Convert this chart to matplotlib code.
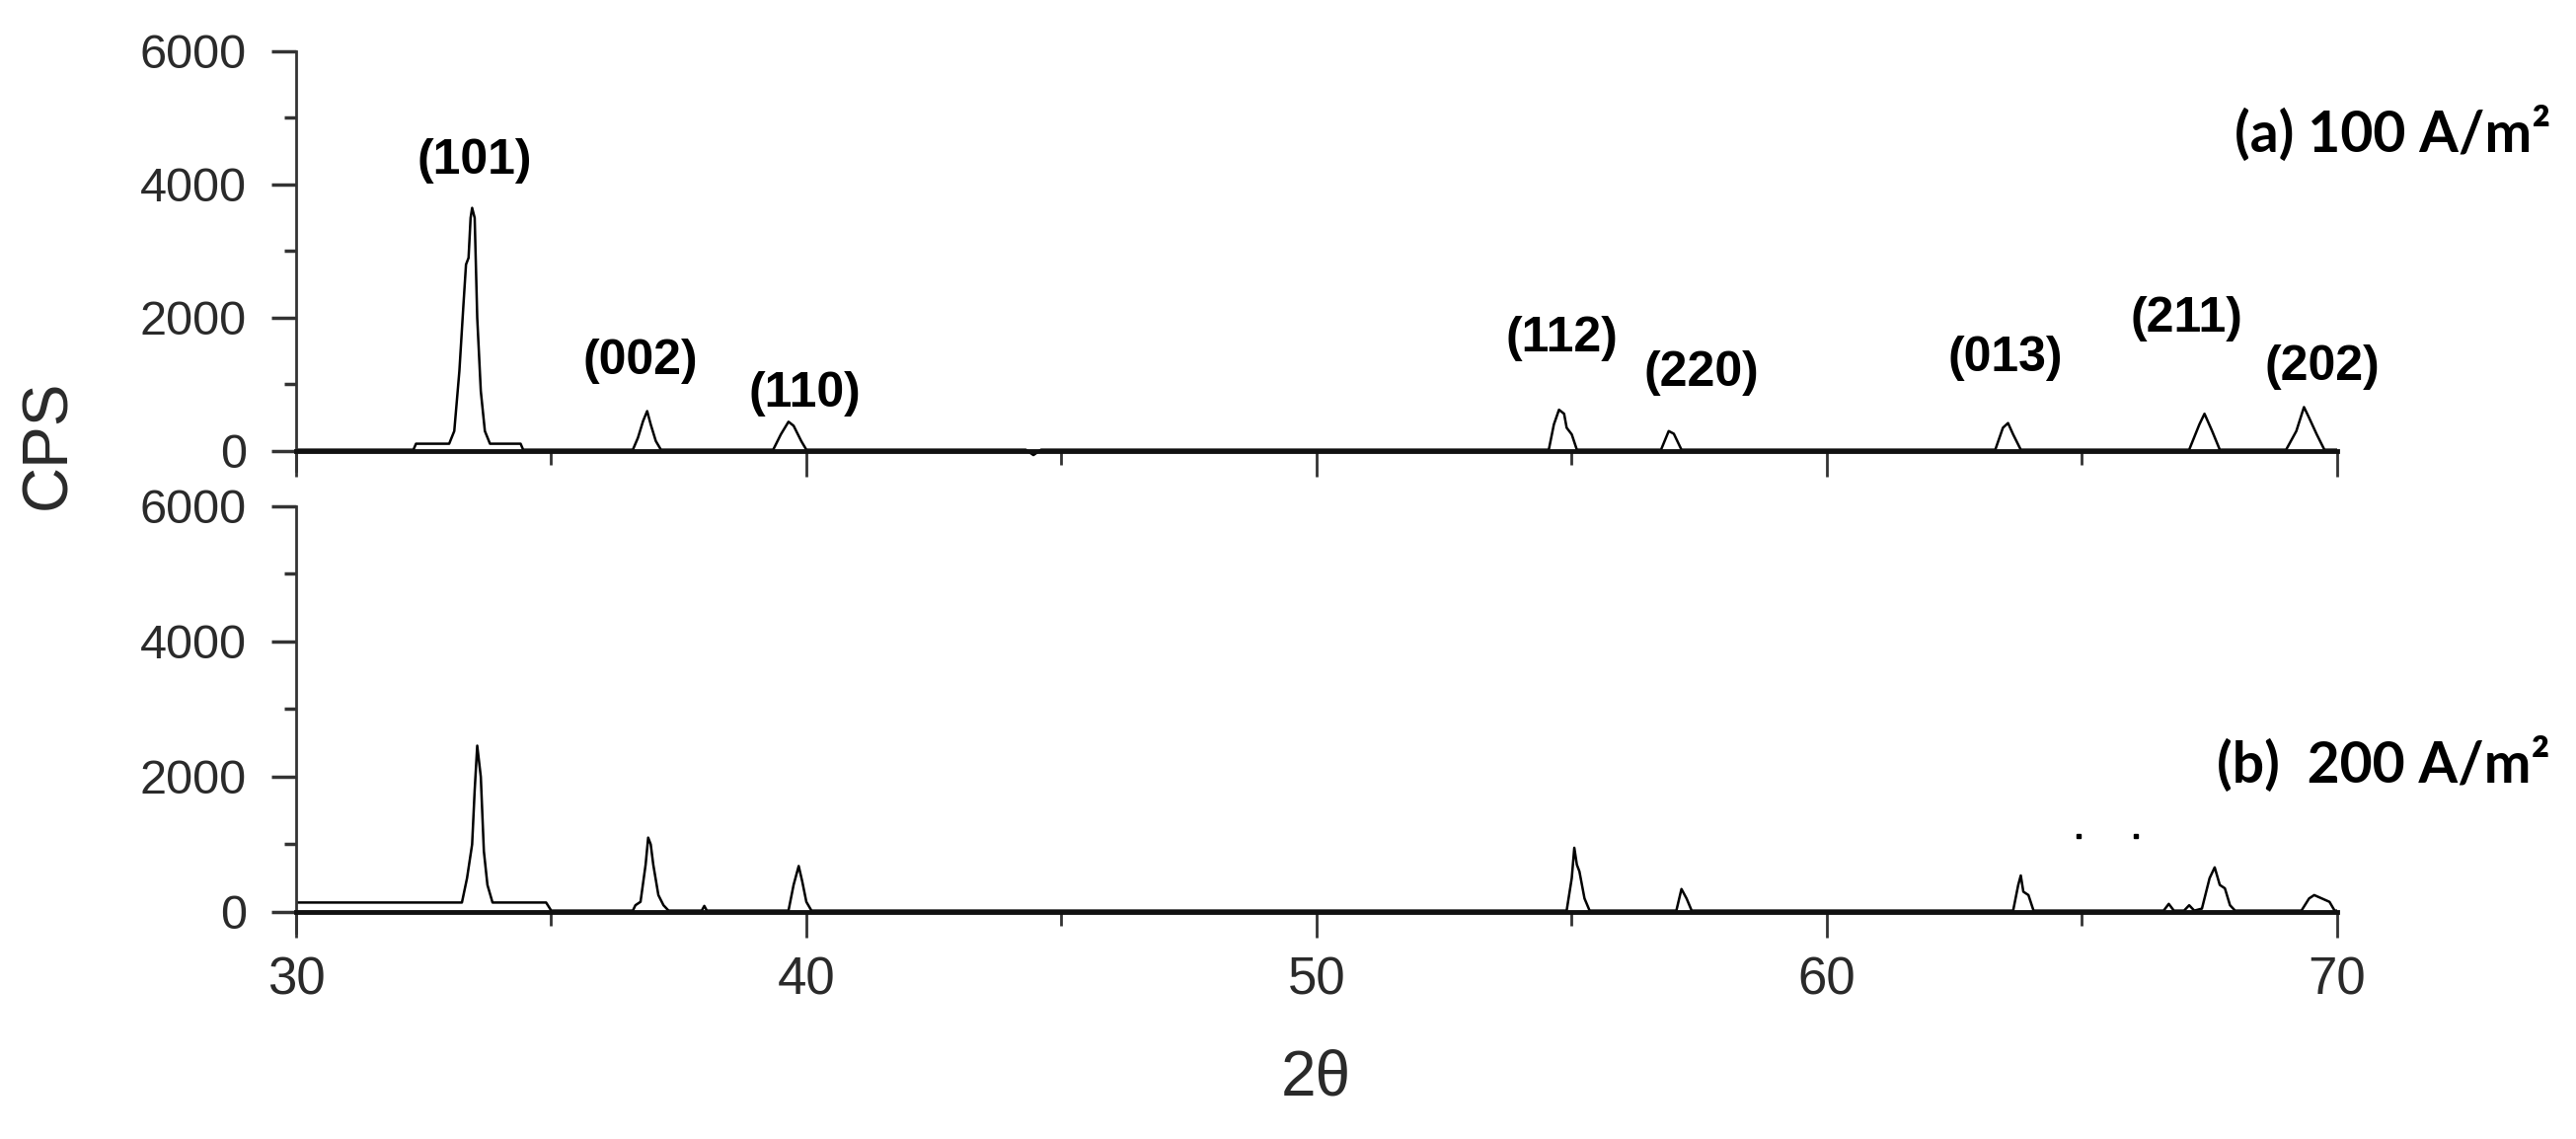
import matplotlib
matplotlib.use("Agg")
import matplotlib.pyplot as plt
from matplotlib.ticker import MultipleLocator

# 2-theta (deg) and counts per second
tth_a = [30.0, 32.3, 32.35, 33.0, 33.1, 33.2, 33.28, 33.33, 33.38, 33.42, 33.45, 33.5, 33.55, 33.62, 33.7, 33.8,
         34.4, 34.45, 36.6, 36.7, 36.8, 36.88, 36.95, 37.05, 37.15, 39.35, 39.5, 39.65, 39.75, 39.9, 40.0,
         44.3, 44.45, 44.6, 54.55, 54.65, 54.75, 54.85, 54.9, 55.0, 55.1, 56.75, 56.9, 57.0, 57.15,
         63.3, 63.45, 63.55, 63.65, 63.8, 67.1, 67.3, 67.4, 67.55, 67.7, 69.0, 69.2, 69.35, 69.45, 69.6, 69.75, 70.0]
cps_a = [20, 20, 110, 110, 300, 1200, 2200, 2800, 2900, 3500, 3650, 3500, 2000, 900, 300, 110,
         110, 20, 20, 200, 450, 600, 400, 150, 20, 20, 250, 440, 380, 150, 20,
         20, -60, 20, 20, 400, 620, 560, 350, 250, 20, 20, 300, 260, 20,
         20, 350, 420, 250, 20, 20, 400, 560, 300, 20, 20, 300, 660, 500, 250, 20, 20]

tth_b = [30.0, 33.25, 33.35, 33.45, 33.5, 33.55, 33.62, 33.68, 33.75, 33.85, 34.9, 35.0,
         36.6, 36.65, 36.75, 36.85, 36.9, 36.95, 37.0, 37.1, 37.2, 37.3, 37.95, 38.0, 38.05,
         39.65, 39.75, 39.85, 39.92, 40.0, 40.1, 54.9, 55.0, 55.05, 55.1, 55.15, 55.25, 55.35,
         57.05, 57.15, 57.25, 57.35, 63.65, 63.75, 63.8, 63.85, 63.95, 64.05,
         66.6, 66.7, 66.8, 67.0, 67.1, 67.2, 67.35, 67.5, 67.6, 67.7, 67.8, 67.9, 68.0,
         69.3, 69.45, 69.55, 69.7, 69.85, 69.95, 70.0]
cps_b = [140, 140, 500, 1000, 1800, 2460, 2000, 900, 400, 140, 140, 20,
         20, 100, 150, 700, 1100, 1000, 700, 250, 100, 20, 20, 90, 20,
         20, 400, 680, 450, 150, 20, 20, 500, 950, 700, 600, 200, 20,
         20, 340, 200, 20, 20, 400, 540, 300, 250, 20,
         20, 120, 20, 20, 100, 20, 50, 500, 660, 400, 350, 100, 20,
         20, 200, 250, 200, 150, 20, 20]

stray_x = [64.93, 66.05]
stray_y = [1120, 1120]

hkl = ["(101)", "(002)", "(110)", "(112)", "(220)", "(013)", "(211)", "(202)"]
hkl_x = [33.5, 36.75, 39.96, 54.8, 57.55, 63.5, 67.05, 69.7]
hkl_y = [4350, 1350, 860, 1690, 1170, 1390, 1980, 1260]

sans = ["Liberation Sans", "DejaVu Sans"]
tick_col = "#2a2a2a"

fig = plt.figure(figsize=(26.1, 11.54), dpi=100)
ax_a = fig.add_axes([0.11494, 0.58644, 0.79234, 0.3685])
ax_b = fig.add_axes([0.11494, 0.18150, 0.79234, 0.37396])

for ax in (ax_a, ax_b):
    ax.set_xlim(30, 70)
    ax.set_ylim(-300, 6000)
    ax.spines["top"].set_visible(False)
    ax.spines["right"].set_visible(False)
    ax.spines["bottom"].set_position(("data", 0))
    ax.spines["bottom"].set_linewidth(3.5)
    ax.spines["bottom"].set_color("#111111")
    ax.spines["left"].set_linewidth(2.0)
    ax.spines["left"].set_color("#333333")
    ax.xaxis.set_major_locator(MultipleLocator(10))
    ax.xaxis.set_minor_locator(MultipleLocator(5))
    ax.set_yticks([0, 2000, 4000, 6000])
    ax.yaxis.set_minor_locator(MultipleLocator(1000))
    ax.tick_params(axis="x", which="major", direction="out", length=19, width=2, color="#333333", pad=13)
    ax.tick_params(axis="x", which="minor", direction="out", length=10, width=2, color="#333333")
    ax.tick_params(axis="y", which="major", direction="out", length=18, width=2.5, color="#333333", pad=18)
    ax.tick_params(axis="y", which="minor", direction="out", length=9, width=2.5, color="#333333")
    for lab in ax.get_yticklabels():
        lab.set_family(sans)
        lab.set_fontsize(35)
        lab.set_color(tick_col)
    for lab in ax.get_xticklabels():
        lab.set_family(sans)
        lab.set_fontsize(38)
        lab.set_color(tick_col)

ax_a.tick_params(axis="x", labelbottom=False)

ax_a.plot(tth_a, cps_a, color="black", lw=1.8)
ax_b.plot(tth_b, cps_b, color="black", lw=1.8)
ax_b.plot(stray_x, stray_y, ls="none", marker="s", ms=2.5, color="black")

for lab, x, y in zip(hkl, hkl_x, hkl_y):
    ax_a.text(x, y, lab, ha="center", va="center", fontsize=36, fontweight="bold", family=sans)

fig.text(0.990, 0.883, "(a) 100 A/m²", ha="right", va="center", fontsize=41, fontweight="bold", family=["Lato", "DejaVu Sans"])
fig.text(0.990, 0.329, "(b)  200 A/m²", ha="right", va="center", fontsize=41, fontweight="bold", family=["Lato", "DejaVu Sans"])

fig.text(0.0188, 0.610, "CPS", rotation=90, ha="center", va="center", fontsize=46, family=sans, color=tick_col)
fig.text(0.511, 0.0537, "2θ", ha="center", va="center", fontsize=46, family=sans, color=tick_col)

fig.savefig("out.png", dpi=100)
